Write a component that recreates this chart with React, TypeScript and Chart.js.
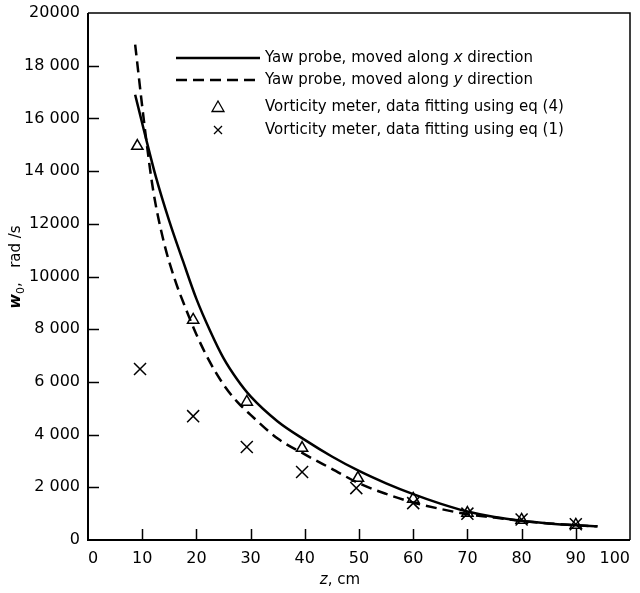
import React, { useEffect, useRef } from "react";
import { Chart, registerables } from "chart.js";

Chart.register(...registerables);

// Yaw probe, moved along x direction (solid curve)
const solidZ = [8.7, 10.5, 12.5, 15, 17.5, 20, 22.5, 25, 27.5, 30, 35, 40, 45, 50, 55, 60, 65, 70, 75, 80, 85, 90, 94];
const solidW = [16900, 15400, 13800, 12100, 10600, 9150, 7950, 6900, 6100, 5450, 4500, 3800, 3170, 2620, 2150, 1740, 1380, 1080, 870, 730, 630, 560, 520];

// Yaw probe, moved along y direction (dashed curve)
const dashedZ = [8.7, 10.5, 12, 14, 16, 18, 20, 22.5, 25, 27.5, 30, 35, 40, 45, 50, 55, 60, 65, 70, 75, 80, 85, 90, 94];
const dashedW = [18800, 15600, 13300, 11300, 9900, 8800, 7800, 6750, 5900, 5250, 4750, 3850, 3250, 2700, 2150, 1750, 1420, 1180, 980, 850, 720, 630, 560, 520];

// Vorticity meter, eq (4) (triangles)
const triZ = [9.1, 19.4, 29.3, 39.5, 49.8, 60, 70, 80, 90];
const triW = [14950, 8350, 5240, 3490, 2350, 1560, 1020, 760, 570];

// Vorticity meter, eq (1) (crosses)
const crossZ = [9.6, 19.4, 29.3, 39.5, 49.5, 60, 70, 80, 90];
const crossW = [6490, 4700, 3530, 2580, 1970, 1400, 1000, 780, 600];

const xTickValues = [0, 10, 20, 30, 40, 50, 60, 70, 80, 90, 100];
const yTickValues = [0, 2000, 4000, 6000, 8000, 10000, 12000, 14000, 16000, 18000, 20000];
const yTickLabels = ["0", "2 000", "4 000", "6 000", "8 000", "10000", "12000", "14 000", "16 000", "18 000", "20000"];

const seriesLabels = [
  "Yaw probe, moved along x direction",
  "Yaw probe, moved along y direction",
  "Vorticity meter, data fitting using eq (4)",
  "Vorticity meter, data fitting using eq (1)",
];

const FONT = "'DejaVu Sans', sans-serif";

function pts(xs: number[], ys: number[]) {
  return xs.map((x, i) => ({ x, y: ys[i] }));
}

function drawRichText(ctx: CanvasRenderingContext2D, text: string, x: number, y: number, size: number) {
  const words = text.split(" ");
  let cx = x;
  words.forEach((w, i) => {
    const italic = w === "x" || w === "y";
    ctx.font = `${italic ? "italic " : ""}${size}px ${FONT}`;
    const s = i < words.length - 1 ? w + " " : w;
    ctx.fillText(s, cx, y);
    cx += ctx.measureText(s).width;
  });
}

const decorPlugin = {
  id: "decor",
  afterDatasetsDraw(chart: any) {
    const ctx: CanvasRenderingContext2D = chart.ctx;
    const a = chart.chartArea;
    const xs = chart.scales.x;
    const ys = chart.scales.y;
    ctx.save();
    ctx.strokeStyle = "#000";
    ctx.fillStyle = "#000";
    // frame
    ctx.lineWidth = 1.5;
    ctx.beginPath();
    ctx.moveTo(a.left, a.top);
    ctx.lineTo(a.right, a.top);
    ctx.lineTo(a.right, a.bottom);
    ctx.stroke();
    ctx.lineWidth = 2;
    ctx.beginPath();
    ctx.moveTo(a.left, a.top);
    ctx.lineTo(a.left, a.bottom);
    ctx.lineTo(a.right, a.bottom);
    ctx.stroke();
    // inward ticks
    ctx.lineWidth = 1.5;
    ctx.beginPath();
    xTickValues.forEach((v) => {
      if (v === 0 || v === 100) return;
      const px = Math.round(xs.getPixelForValue(v)) + 0.5;
      ctx.moveTo(px, a.bottom);
      ctx.lineTo(px, a.bottom - 11);
    });
    yTickValues.forEach((v) => {
      if (v === 0 || v === 20000) return;
      const py = Math.round(ys.getPixelForValue(v)) + 0.5;
      ctx.moveTo(a.left, py);
      ctx.lineTo(a.left + 11, py);
    });
    ctx.stroke();

    // legend
    const rowY = [58, 80, 107, 130];
    const lineX0 = 176, lineX1 = 260, markX = 218, textX = 265;
    ctx.textBaseline = "middle";
    ctx.textAlign = "left";
    chart.data.datasets.forEach((ds: any, i: number) => {
      const y = rowY[i];
      ctx.save();
      ctx.strokeStyle = "#000";
      if (ds.showLine !== false) {
        ctx.lineWidth = ds.borderWidth;
        ctx.setLineDash(ds.borderDash || []);
        ctx.beginPath();
        ctx.moveTo(lineX0, y);
        ctx.lineTo(lineX1, y);
        ctx.stroke();
      } else if (ds.pointStyle === "triangle") {
        ctx.lineWidth = 1.3;
        ctx.beginPath();
        ctx.moveTo(markX, y - 6);
        ctx.lineTo(markX + 6, y + 4.5);
        ctx.lineTo(markX - 6, y + 4.5);
        ctx.closePath();
        ctx.stroke();
      } else {
        ctx.lineWidth = 1.3;
        ctx.beginPath();
        ctx.moveTo(markX - 4, y - 4);
        ctx.lineTo(markX + 4, y + 4);
        ctx.moveTo(markX + 4, y - 4);
        ctx.lineTo(markX - 4, y + 4);
        ctx.stroke();
      }
      ctx.restore();
      drawRichText(ctx, ds.label, textX, y, 15);
    });

    // x title
    ctx.textBaseline = "middle";
    ctx.font = `italic 15px ${FONT}`;
    const zW = ctx.measureText("z").width;
    ctx.font = `15px ${FONT}`;
    const restW = ctx.measureText(", cm").width;
    const tx = 340 - (zW + restW) / 2;
    ctx.font = `italic 15px ${FONT}`;
    ctx.fillText("z", tx, 580);
    ctx.font = `15px ${FONT}`;
    ctx.fillText(", cm", tx + zW, 580);

    // y title (rotated)
    ctx.save();
    ctx.translate(16, 267);
    ctx.rotate(-Math.PI / 2);
    ctx.font = `bold italic 16px ${FONT}`;
    const wW = ctx.measureText("w").width;
    ctx.font = `11px ${FONT}`;
    const oW = ctx.measureText("0").width;
    const rest = ",   rad /s";
    ctx.font = `15px ${FONT}`;
    const rW = ctx.measureText(rest).width;
    let cx = -(wW + oW + rW) / 2;
    ctx.font = `bold italic 16px ${FONT}`;
    ctx.fillText("w", cx, 0);
    cx += wW;
    ctx.font = `11px ${FONT}`;
    ctx.fillText("0", cx, 5);
    cx += oW;
    ctx.font = `15px ${FONT}`;
    ctx.fillText(rest, cx, 0);
    ctx.restore();

    ctx.restore();
  },
};

export default function App() {
  const ref = useRef<HTMLCanvasElement | null>(null);
  useEffect(() => {
    document.body.style.margin = "0";
    const canvas = ref.current;
    if (!canvas) return;
    const chart = new Chart(canvas, {
      type: "scatter",
      data: {
        datasets: [
          {
            label: seriesLabels[0],
            data: pts(solidZ, solidW),
            showLine: true,
            borderColor: "#000",
            borderWidth: 2.5,
            pointRadius: 0,
            cubicInterpolationMode: "monotone",
          } as any,
          {
            label: seriesLabels[1],
            data: pts(dashedZ, dashedW),
            showLine: true,
            borderColor: "#000",
            borderWidth: 2.5,
            borderDash: [11, 6],
            pointRadius: 0,
            cubicInterpolationMode: "monotone",
          } as any,
          {
            label: seriesLabels[2],
            data: pts(triZ, triW),
            showLine: false,
            pointStyle: "triangle",
            pointRadius: 6.5,
            pointBorderWidth: 1.5,
            pointBorderColor: "#000",
            pointBackgroundColor: "rgba(255,255,255,0)",
          } as any,
          {
            label: seriesLabels[3],
            data: pts(crossZ, crossW),
            showLine: false,
            pointStyle: "crossRot",
            pointRadius: 8.5,
            pointBorderWidth: 1.5,
            pointBorderColor: "#000",
            pointBackgroundColor: "#000",
          } as any,
        ],
      },
      options: {
        animation: false,
        responsive: true,
        maintainAspectRatio: false,
        layout: { padding: { top: 13, right: 10, left: 0, bottom: 0 } },
        plugins: {
          legend: { display: false },
          tooltip: { enabled: false },
        },
        scales: {
          x: {
            type: "linear",
            min: 0,
            max: 100,
            afterBuildTicks: (s: any) => {
              s.ticks = xTickValues.map((v) => ({ value: v }));
            },
            afterFit: (s: any) => {
              s.height = 53;
              s.paddingLeft = 0;
              s.paddingRight = 0;
            },
            grid: { display: false, drawTicks: false },
            border: { display: false },
            ticks: {
              color: "#000",
              padding: 9,
              maxRotation: 0,
              autoSkip: false,
              align: "inner",
              font: { family: FONT, size: 16 },
              callback: (v: any) => String(v),
            },
          },
          y: {
            type: "linear",
            min: 0,
            max: 20000,
            afterBuildTicks: (s: any) => {
              s.ticks = yTickValues.map((v) => ({ value: v }));
            },
            afterFit: (s: any) => {
              s.width = 88;
              s.paddingTop = 0;
              s.paddingBottom = 0;
            },
            grid: { display: false, drawTicks: false },
            border: { display: false },
            ticks: {
              color: "#000",
              padding: 8,
              autoSkip: false,
              font: { family: FONT, size: 16 },
              callback: (v: any) => {
                const i = yTickValues.indexOf(Number(v));
                return i >= 0 ? yTickLabels[i] : "";
              },
            },
          },
        },
      },
      plugins: [decorPlugin],
    });
    return () => chart.destroy();
  }, []);
  return (
    <div style={{ width: 640, height: 593, position: "relative" }}>
      <canvas ref={ref} />
    </div>
  );
}
